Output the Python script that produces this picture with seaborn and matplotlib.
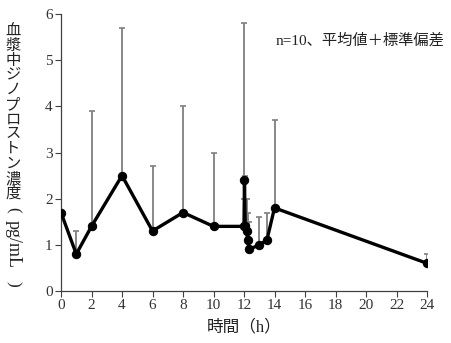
import matplotlib
matplotlib.use("Agg")
import matplotlib.pyplot as plt
import seaborn as sns
import pandas as pd
import numpy as np

# Plasma dinoprostone concentration over time (mean + SD, n=10)
time_h = [0, 1, 2, 4, 6, 8, 10, 12, 12.03, 12.08, 12.17, 12.25, 12.33, 13, 13.5, 14, 24]
mean_conc = [1.7, 0.8, 1.4, 2.5, 1.3, 1.7, 1.4, 1.4, 2.4, 1.4, 1.3, 1.1, 0.9, 1.0, 1.1, 1.8, 0.6]
sd_conc = [0.0, 0.5, 2.5, 3.2, 1.4, 2.3, 1.6, 0.6, 3.4, 1.1, 0.7, 0.6, 0.6, 0.6, 0.6, 1.9, 0.2]

x_ticks = list(range(0, 25, 2))
y_ticks = list(range(0, 7))

sns.set_style("white")
serif_cjk = ["Liberation Serif", "Noto Sans CJK JP"]
plt.rcParams["font.family"] = serif_cjk

df = pd.DataFrame({"time": time_h, "conc": mean_conc, "sd": sd_conc})

W, H = 451, 343
fig = plt.figure(figsize=(W / 100, H / 100), dpi=100)
ax = fig.add_axes([61 / W, 52 / H, 366 / W, 277 / H])

# upper error bars (mean + SD only)
err = np.vstack([np.zeros(len(sd_conc)), sd_conc])
ax.errorbar(df["time"], df["conc"], yerr=err, fmt="none", ecolor="#7f7f7f",
            elinewidth=1.3, capsize=2.5, capthick=1.2, zorder=2)

sns.lineplot(data=df, x="time", y="conc", sort=False, color="black", linewidth=2.4,
             marker="o", markersize=6, markeredgecolor="black", ax=ax, zorder=3)

ax.set_xlim(0, 24)
ax.set_ylim(0, 6)
ax.set_xticks(x_ticks)
ax.set_yticks(y_ticks)
ax.tick_params(axis="both", direction="out", length=4, width=0.8, color="#404040",
               labelsize=11, labelcolor="#333333", left=True, bottom=True, pad=2)
for lab in ax.get_xticklabels() + ax.get_yticklabels():
    lab.set_family("Liberation Serif")

for side in ["top", "right"]:
    ax.spines[side].set_visible(False)
for side in ["left", "bottom"]:
    ax.spines[side].set_color("#404040")
    ax.spines[side].set_linewidth(0.9)

ax.set_xlabel("時間（h）", fontsize=12, family=serif_cjk, color="#222222", labelpad=5)
ax.set_ylabel("")

# vertical y-axis title: upright CJK characters stacked, then the rotated unit
chars = "血漿中ジノプロストン濃度"
for i, ch in enumerate(chars):
    fig.text(13 / W, 1 - (31 + i * 14.8) / H, ch, fontsize=11, family=serif_cjk,
             color="#222222", ha="center", va="center")
fig.text(13 / W, 1 - 210 / H, "(", fontsize=12.5, family="Liberation Serif",
         color="#222222", ha="center", va="center", rotation=-90)
fig.text(13 / W, 1 - 244 / H, "pg/mL", fontsize=13, family="Liberation Serif",
         color="#222222", ha="center", va="center", rotation=-90)
fig.text(13 / W, 1 - 284 / H, ")", fontsize=12.5, family="Liberation Serif",
         color="#222222", ha="center", va="center", rotation=-90)

ax.text(0.585, 0.905, "n=10、平均値＋標準偏差", transform=ax.transAxes, fontsize=11,
        family=serif_cjk, color="#222222", ha="left", va="center")

fig.savefig("out.png", dpi=100)
